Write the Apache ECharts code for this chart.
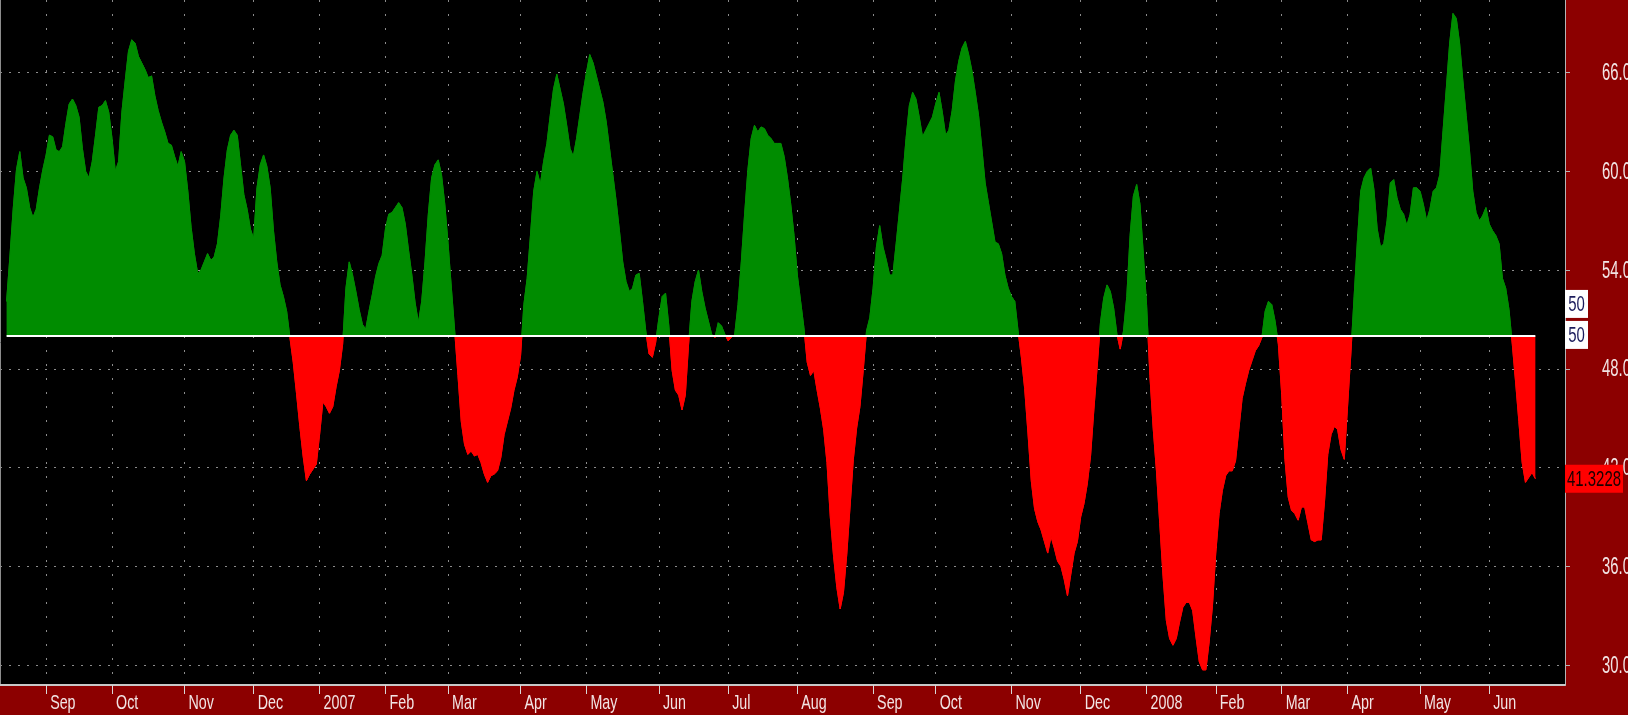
<!DOCTYPE html>
<html>
<head>
<meta charset="utf-8">
<title>RSI</title>
<script src="https://cdn.jsdelivr.net/npm/echarts@6/dist/echarts.min.js"></script>
<style>
  html, body { margin: 0; padding: 0; background: #8c0000; }
  #chart { width: 1628px; height: 715px; }
</style>
</head>
<body>
<div id="chart"></div>
<script>
// trading calendar of the x axis
const startDay = '2006-08-14'
const endDay = '2008-07-03'
const holidays = [
  '2006-09-04', '2006-11-23', '2006-12-25',
  '2007-01-01', '2007-01-02', '2007-01-15', '2007-02-19', '2007-04-06', '2007-05-28',
  '2007-07-04', '2007-09-03', '2007-11-22', '2007-12-25',
  '2008-01-01', '2008-01-21', '2008-02-18', '2008-03-21', '2008-05-26'
]
const monthNames = ['Jan', 'Feb', 'Mar', 'Apr', 'May', 'Jun', 'Jul', 'Aug', 'Sep', 'Oct', 'Nov', 'Dec']
const yTicks = [30, 36, 42, 48, 54, 60, 66]
const midLevel = 50

// indicator value per trading day (first two days empty)
const rsiValues = [
  null, null, 52.1, 54.8, 57.7, 60.1, 61.2, 59.6, 59.0, 57.8,
  57.2, 57.7, 59.0, 60.1, 61.0, 62.2, 62.1, 61.3, 61.2, 61.5,
  62.9, 64.1, 64.4, 64.0, 63.3, 61.4, 60.0, 59.6, 60.6, 62.2,
  63.9, 64.0, 64.3, 63.6, 62.0, 60.0, 60.6, 63.6, 65.5, 67.3,
  68.0, 67.8, 67.0, 66.6, 66.2, 65.7, 65.8, 64.6, 63.7, 63.0,
  62.4, 61.7, 61.6, 60.9, 60.3, 61.2, 60.6, 58.8, 56.6, 55.0,
  53.8, 54.0, 54.5, 55.0, 54.6, 54.8, 55.6, 57.3, 59.6, 61.3,
  62.2, 62.5, 62.2, 60.4, 58.6, 57.7, 56.5, 55.9, 59.0, 60.4,
  61.0, 60.3, 59.0, 56.4, 54.5, 53.1, 52.4, 51.5, 49.9, 48.4,
  46.5, 44.5, 42.7, 41.2, 41.6, 41.9, 42.2, 44.0, 46.0, 45.7,
  45.3, 45.7, 46.9, 47.9, 49.5, 52.9, 54.5, 53.7, 52.7, 51.6,
  50.7, 50.4, 51.5, 52.5, 53.6, 54.4, 54.9, 56.5, 57.4, 57.5,
  57.8, 58.1, 57.8, 56.8, 55.2, 53.7, 52.0, 50.8, 52.1, 54.5,
  57.4, 59.6, 60.4, 60.7, 59.8, 58.0, 55.6, 52.9, 50.3, 47.6,
  44.8, 43.4, 42.8, 43.0, 42.7, 42.8, 42.3, 41.6, 41.1, 41.5,
  41.6, 41.8, 42.6, 44.0, 44.8, 45.6, 46.7, 47.5, 48.8, 51.9,
  53.5, 56.1, 58.8, 60.0, 59.2, 60.6, 61.7, 63.4, 65.0, 65.9,
  65.0, 64.1, 62.8, 61.4, 60.9, 62.0, 63.4, 64.8, 66.0, 67.1,
  66.6, 65.8, 65.0, 64.2, 63.0, 61.4, 59.8, 58.2, 56.4, 54.5,
  53.3, 52.7, 52.9, 53.7, 53.8, 52.1, 50.3, 48.9, 48.7, 49.6,
  51.1, 52.4, 52.6, 50.6, 47.9, 46.7, 46.4, 45.5, 46.4, 49.5,
  52.1, 53.3, 54.0, 52.7, 51.7, 50.9, 50.1, 49.9, 50.8, 50.6,
  50.1, 49.7, 49.9, 50.1, 51.9, 54.5, 57.4, 60.1, 62.0, 62.8,
  62.4, 62.7, 62.6, 62.2, 62.0, 61.7, 61.7, 61.7, 60.9, 59.6,
  58.0, 56.1, 53.7, 52.1, 50.5, 48.4, 47.6, 47.9, 46.7, 45.6,
  44.3, 42.3, 39.0, 36.6, 34.7, 33.4, 34.4, 36.7, 39.6, 42.5,
  44.4, 45.7, 47.9, 50.3, 51.1, 52.9, 55.4, 56.7, 55.4, 54.6,
  53.7, 53.7, 55.6, 57.6, 59.6, 62.0, 64.0, 64.8, 64.4, 63.3,
  62.1, 62.5, 62.9, 63.3, 64.1, 64.8, 63.6, 62.2, 62.5, 63.7,
  65.5, 66.7, 67.5, 67.9, 67.1, 66.1, 64.8, 63.4, 61.4, 59.3,
  58.1, 56.9, 55.7, 55.6, 55.0, 53.7, 52.9, 52.4, 52.1, 50.3,
  48.7, 46.8, 44.1, 41.2, 39.5, 38.7, 38.2, 37.5, 36.8, 37.8,
  37.1, 36.3, 36.0, 35.2, 34.2, 35.5, 36.8, 37.5, 39.0, 39.8,
  41.0, 42.7, 45.5, 48.1, 50.8, 52.3, 53.1, 52.7, 51.7, 50.1,
  49.2, 50.3, 52.4, 56.1, 58.5, 59.2, 58.0, 55.0, 51.9, 47.6,
  44.4, 41.8, 38.6, 35.4, 32.7, 31.6, 31.2, 31.6, 32.6, 33.5,
  33.8, 33.8, 33.3, 31.7, 30.2, 29.7, 29.7, 31.4, 33.6, 36.8,
  39.2, 40.6, 41.5, 41.8, 41.8, 42.4, 44.3, 46.2, 47.1, 47.9,
  48.5, 49.1, 49.4, 49.9, 51.5, 52.1, 51.9, 50.9, 49.5, 46.5,
  42.5, 40.2, 39.4, 39.2, 38.8, 39.6, 39.6, 38.6, 37.6, 37.5,
  37.6, 37.6, 39.9, 42.8, 44.0, 44.5, 44.3, 43.1, 42.5, 45.7,
  48.9, 52.4, 55.8, 58.8, 59.6, 60.0, 60.2, 58.9, 56.5, 55.4,
  55.6, 57.0, 59.3, 59.5, 58.4, 57.7, 57.4, 56.7, 57.4, 59.0,
  59.0, 58.8, 58.0, 57.0, 57.7, 58.8, 59.0, 59.8, 62.5, 65.1,
  67.8, 69.6, 69.3, 67.8, 65.5, 63.4, 61.3, 58.8, 57.5, 57.0,
  57.3, 57.8, 56.8, 56.4, 56.1, 55.6, 53.5, 52.9, 51.6, 49.5,
  47.2, 44.8, 42.3, 41.1, 41.4, 41.7, 41.3228
]

// narrow terminal-style lettering: a regular face squeezed horizontally
const FONT = "'Liberation Sans', Arial, sans-serif"
const LABEL_COLOR = '#f2e4e4'

// weekdays without exchange holidays
function tradingDays () {
  const days = []
  const d = new Date(startDay + 'T00:00:00Z')
  const end = new Date(endDay + 'T00:00:00Z')
  while (d <= end) {
    const wd = d.getUTCDay()
    const s = d.toISOString().slice(0, 10)
    if (wd !== 0 && wd !== 6 && holidays.indexOf(s) < 0) days.push(s)
    d.setUTCDate(d.getUTCDate() + 1)
  }
  return days
}

const days = tradingDays()
const firstIdx = rsiValues.findIndex(v => v != null)
const lastIdx = rsiValues.length - 1
const lastValue = rsiValues[lastIdx]
const monthStart = (i) => i > 0 && i <= lastIdx && days[i].slice(5, 7) !== days[i - 1].slice(5, 7)

const chart = echarts.init(document.getElementById('chart'))

const option = {
  animation: false,
  backgroundColor: '#8c0000',
  grid: {
    left: 0, right: 63, top: 0, bottom: 30,
    outerBoundsMode: 'none',
    show: true, backgroundColor: '#000', borderWidth: 0
  },
  xAxis: {
    type: 'category',
    data: days,
    boundaryGap: false,
    axisLine: { lineStyle: { color: '#c8c8c8', width: 2 } },
    axisTick: { interval: monthStart, length: 9, lineStyle: { color: '#d8d8d8' } },
    axisLabel: { show: false },
    splitLine: { show: true, interval: monthStart, lineStyle: { color: '#8c8c8c', width: 1, type: [2, 12] } }
  },
  yAxis: [
    {
      type: 'value',
      position: 'right',
      min: 28.78,
      max: 70.42,
      axisLine: { show: true, lineStyle: { color: '#b4b4b4', width: 1 } },
      axisTick: { show: true, length: 5, customValues: yTicks, lineStyle: { color: '#b4b4b4' } },
      axisLabel: { show: false, customValues: yTicks },
      splitLine: { show: true, lineStyle: { color: '#8c8c8c', width: 1, type: [2, 7] } }
    },
    {
      // only the left border line of the plot
      type: 'value',
      position: 'left',
      min: 28.78,
      max: 70.42,
      axisLine: { show: true, lineStyle: { color: '#8c8c8c', width: 1 } },
      axisTick: { show: false },
      axisLabel: { show: false },
      splitLine: { show: false }
    }
  ],
  visualMap: {
    show: false,
    type: 'piecewise',
    seriesIndex: 0,
    dimension: 1,
    pieces: [
      { gte: 0, lte: midLevel, color: '#ff0000' },
      { gt: midLevel, lte: 100, color: '#008c00' }
    ]
  },
  series: [
    {
      type: 'line',
      data: rsiValues,
      symbol: 'none',
      lineStyle: { width: 1 },
      areaStyle: { origin: midLevel, opacity: 1 },
      markLine: {
        silent: true,
        symbol: 'none',
        label: { show: false },
        lineStyle: { color: '#ffffff', width: 2, type: 'solid' },
        data: [[{ coord: [days[firstIdx], midLevel] }, { coord: [days[lastIdx], midLevel] }]]
      }
    }
  ]
}

chart.setOption(option)

// labels are placed with the axes' own scales, then squeezed like the original lettering
const xr = chart.convertToPixel({ xAxisIndex: 0 }, days[days.length - 1])
const y50 = chart.convertToPixel({ yAxisIndex: 0 }, midLevel)
const yLast = chart.convertToPixel({ yAxisIndex: 0 }, lastValue)

function squeezedText (x, y, text, size, sx, color, align, z) {
  return {
    type: 'text', z: z || 50, x: x, y: y, scaleX: sx,
    style: { text: text, fill: color, font: size + 'px ' + FONT, align: align || 'left', verticalAlign: 'middle' }
  }
}

function valueBox (x, y, w, fill, color, text) {
  return [
    { type: 'rect', z: 100, shape: { x: x, y: y, width: w, height: 28 }, style: { fill: fill } },
    squeezedText(x + w / 2, y + 15, text, 22, 0.68, color, 'center', 101)
  ]
}

const xLabels = []
days.forEach((d, i) => {
  if (!monthStart(i)) return
  const m = +d.slice(5, 7)
  const text = m === 1 ? d.slice(0, 4) : monthNames[m - 1]
  const x = chart.convertToPixel({ xAxisIndex: 0 }, d)
  xLabels.push(squeezedText(x + 4, 703, text, 21, 0.68, LABEL_COLOR))
})

const yLabels = yTicks.map(v =>
  squeezedText(xr + 37, chart.convertToPixel({ yAxisIndex: 0 }, v) + 1, v.toFixed(2), 24, 0.62, LABEL_COLOR)
)

chart.setOption({
  graphic: [].concat(
    xLabels,
    yLabels,
    valueBox(xr, y50 - 46, 23, '#ffffff', '#1c1c5c', String(midLevel)),
    valueBox(xr, y50 - 15, 23, '#ffffff', '#1c1c5c', String(midLevel)),
    valueBox(xr, yLast - 14, 58, '#ff0000', '#1a0000', String(lastValue))
  )
})
</script>
</body>
</html>
